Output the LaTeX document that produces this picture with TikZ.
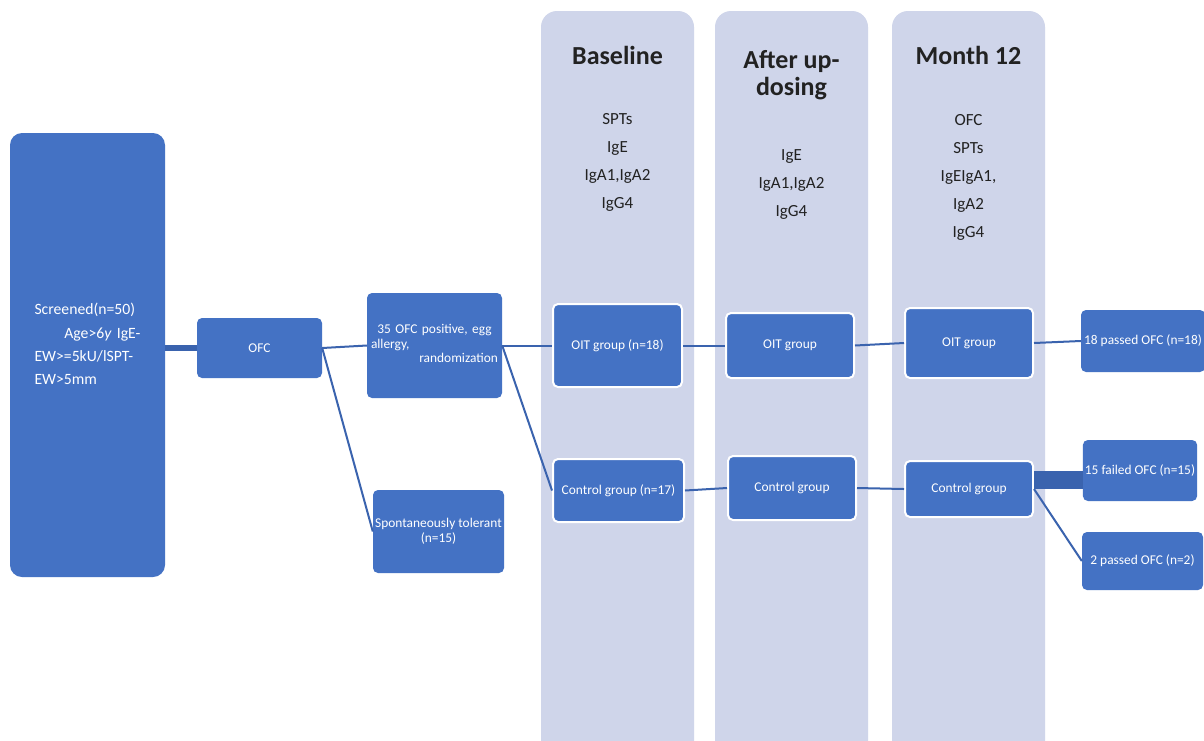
\documentclass[tikz,border=0pt]{standalone}
\usepackage{fontspec}
\setmainfont{Carlito}
\usepackage{tikz}
\usepackage{xcolor}
\definecolor{boxblue}{HTML}{4472C4}
\definecolor{linkblue}{HTML}{3A63AE}
\definecolor{colfill}{HTML}{CFD5EA}
\definecolor{titlegray}{HTML}{222222}

\begin{document}
\begin{tikzpicture}[x=1pt,y=-1pt,
                box/.style={fill=boxblue, rounded corners=5pt, text=white, font=\fontsize{13.4}{14.5}\selectfont, align=center, inner sep=2pt},
                wbox/.style={box, draw=white, line width=2pt},
                col/.style={fill=colfill, rounded corners=16pt, minimum width=153pt, minimum height=769pt, inner sep=0pt},
                head/.style={text=titlegray, font=\fontsize{26}{27}\bfseries\selectfont, align=center, inner sep=0pt},
                body/.style={text=titlegray, font=\fontsize{17}{28}\selectfont, align=center, inner sep=0pt},
                link/.style={draw=linkblue, line width=2pt},
                band/.style={draw=linkblue, line width=6pt}]
                \useasboundingbox (0,0) rectangle (1204,740);
                \clip (0,0) rectangle (1204,740);
                \fill[white] (0,0) rectangle (1204,740);
                \node[col] (colbase) at (617.5,395.5) {};
                \node[col] (colup) at (791.5,395.5) {};
                \node[col] (colmonth) at (968.5,395.5) {};
                \node[head] (hbase) at (617.5,55) {Baseline};
                \node[head] (hup) at (791.5,75) {After up-\\dosing};
                \node[head] (hmonth) at (968.5,55) {Month 12};
                \node[body] (bbase) at (617.5,162) {SPTs\\IgE\\IgA1,IgA2\\IgG4};
                \node[body] (bup) at (791.5,184) {IgE\\IgA1,IgA2\\IgG4};
                \node[body] (bmonth) at (968.5,177) {OFC\\SPTs\\IgEIgA1,\\IgA2\\IgG4};
                \node[box, rounded corners=12pt, minimum width=155pt, minimum height=444pt, font=\fontsize{15.7}{23.3}\selectfont, text width=106pt, align=left] (screen) at (87.5,355)
                    {{\raggedright Screened(n=50)\par}{\raggedleft Age>6\textit{y} IgE-\par}{\raggedright EW>=5kU/lSPT-\\EW>5mm\par}\vspace*{22pt}};
                \node[box, minimum width=125pt, minimum height=60pt] (ofc) at (259.5,348) {OFC};
                \node[box, minimum width=135pt, minimum height=105pt, text width=127pt, align=left] (rand) at (434.5,345.5)
                    {{\centering 35 OFC positive, egg\par}{\raggedright allergy,\par}{\raggedleft randomization\par}\vspace*{4pt}};
                \node[box, minimum width=131pt, minimum height=83pt] (spont) at (438.5,531.5) {Spontaneously tolerant\\(n=15)};
                \node[wbox, minimum width=129pt, minimum height=83pt] (oitbase) at (617.5,345.5) {OIT group (n=18)};
                \node[wbox, minimum width=131pt, minimum height=63pt] (ctlbase) at (618.5,490.5) {Control group (n=17)};
                \node[wbox, minimum width=128pt, minimum height=65pt] (oitup) at (790,345.5) {OIT group};
                \node[wbox, minimum width=128pt, minimum height=64pt] (ctlup) at (792,488) {Control group};
                \node[wbox, minimum width=128pt, minimum height=70pt] (oitmonth) at (969,343) {OIT group};
                \node[wbox, minimum width=128pt, minimum height=56pt] (ctlmonth) at (969,489) {Control group};
                \node[box, minimum width=124pt, minimum height=62pt] (pass18) at (1143,341) {18 passed OFC (n=18)};
                \node[box, minimum width=114pt, minimum height=61pt] (fail15) at (1140,470.5) {15 failed OFC (n=15)};
                \node[box, minimum width=121pt, minimum height=58pt] (pass2) at (1142.5,561) {2 passed OFC (n=2)};
                \draw[band] (ofc.west -| screen.east) -- (ofc.west);
                \draw[link] (ofc.east) -- (rand.west);
                \draw[link] (ofc.east) -- (spont.west);
                \draw[link] (rand.east) -- (oitbase.west);
                \draw[link] (rand.east) -- (ctlbase.west);
                \draw[link] (oitbase.east) -- (oitup.west);
                \draw[link] (ctlbase.east) -- (ctlup.west);
                \draw[link] (oitup.east) -- (oitmonth.west);
                \draw[link] (ctlup.east) -- (ctlmonth.west);
                \draw[link] (oitmonth.east) -- (pass18.west);
                \draw[band, line width=18pt] ([yshift=9pt]ctlmonth.east) -- ([yshift=9pt]ctlmonth.east -| fail15.west);
                \draw[link] (ctlmonth.east) -- (pass2.west);
            \end{tikzpicture}
\end{document}
